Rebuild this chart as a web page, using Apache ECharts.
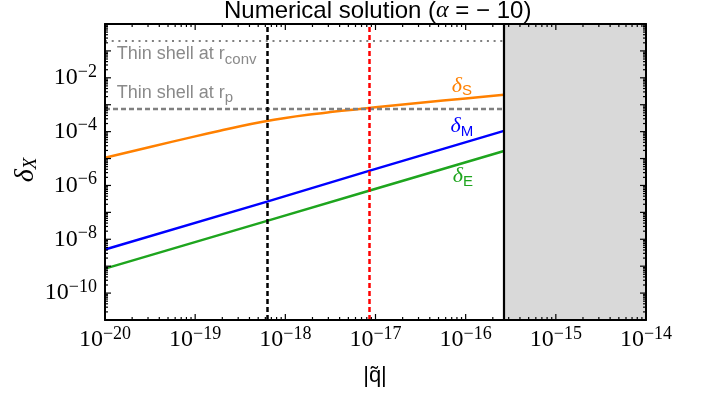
<!DOCTYPE html>
<html><head><meta charset="utf-8">
<script src="https://cdn.jsdelivr.net/npm/echarts@6/dist/echarts.min.js"></script>
<style>html,body{margin:0;padding:0;background:#fff}#c{width:702px;height:401px}</style>
</head><body><div id="c"></div>
<script>
const qS = [1e-20, 3.16e-20, 1e-19, 1.78e-19, 3.16e-19, 5.62e-19, 1e-18, 1.78e-18, 3.16e-18, 5.62e-18, 1e-17, 3.16e-17, 1e-16, 2.66e-16];
const deltaS = [1.07e-5, 2.69e-5, 6.68e-5, 1.04e-4, 1.59e-4, 2.33e-4, 3.23e-4, 4.24e-4, 5.33e-4, 6.56e-4, 8.0e-4, 1.175e-3, 1.72e-3, 2.37e-3];
const qME = [1e-20, 6.27e-19, 8.47e-18, 2.66e-16];
const deltaM = [4.17e-9, 2.51e-7, 3.47e-6, 1.07e-4];
const deltaE = [8.13e-10, 4.84e-8, 6.35e-7, 1.91e-5];
const xTickExponents = [-20, -19, -18, -17, -16, -15, -14];
const yTickExponents = [-10, -8, -6, -4, -2];
const qRange = [1e-20, 1e-14];
const deltaRange = [1e-11, 1];
const qBoundary = 2.66e-16;
const qBlackLine = 6.27e-19;
const qRedLine = 8.47e-18;
const thinShellConv = 0.24;
const thinShellRp = 7.2e-4;
// annotation anchors [q, delta] (left edge / baseline of text)
const anchorS = [7.0e-17, 2.84e-3];
const anchorM = [6.8e-17, 8.7e-5];
const anchorE = [7.2e-17, 1.2e-6];
const anchorConv = [1.35e-20, 0.047];
const anchorRp = [1.35e-20, 1.75e-3];

const L = Math.log10;
const xMin = L(qRange[0]), xMax = L(qRange[1]);
const yMin = L(deltaRange[0]), yMax = L(deltaRange[1]);
function pairs(xs, ys) { return xs.map((x, i) => [L(x), L(ys[i])]); }
function tickVals(a, b) {
  const out = [];
  for (let n = a; n <= b; n++) {
    out.push([n, 6]);
    if (n < b) for (let k = 2; k <= 9; k++) out.push([n + L(k), 3]);
  }
  return out;
}
const SERIF = "'Liberation Serif','DejaVu Serif',serif";
const SANS = "'Liberation Sans',Arial,sans-serif";
const supRich = {
  b: { fontFamily: SERIF, fontSize: 24, lineHeight: 30, color: '#000' },
  s: { fontFamily: SERIF, fontSize: 18, lineHeight: 18, verticalAlign: 'top', color: '#000' }
};
function powLabel(v) {
  const r = Math.round(v);
  return '{b|10}{s|' + (r < 0 ? '\u2212' : '') + Math.abs(r) + '}';
}
const lineAx = { show: true, onZero: false, lineStyle: { color: '#000', width: 2 } };
function mkX(pos, labels) {
  return {
    type: 'value', position: pos, min: xMin, max: xMax, interval: 1, gridIndex: 0, z: 10,
    axisLine: lineAx, axisTick: { show: false },
    axisLabel: labels ? { show: true, margin: 5, rich: supRich, formatter: v => xTickExponents.indexOf(Math.round(v)) >= 0 ? powLabel(v) : '' }
                      : { show: false },
    splitLine: { show: false }
  };
}
function mkY(pos, labels) {
  return {
    type: 'value', position: pos, min: yMin, max: yMax, interval: 1, gridIndex: 0, z: 10,
    axisLine: lineAx, axisTick: { show: false },
    axisLabel: labels ? { show: true, margin: 8, rich: supRich,
                          formatter: v => (Math.abs(v - Math.round(v)) < 1e-9 && yTickExponents.indexOf(Math.round(v)) >= 0) ? powLabel(v) : '' }
                      : { show: false },
    splitLine: { show: false }
  };
}
const xTicks = tickVals(xMin, xMax);
const yTicks = tickVals(yMin, yMax);
function tickLine(x1, y1, x2, y2) {
  return { type: 'line', shape: { x1: x1, y1: y1, x2: x2, y2: y2 }, style: { stroke: '#000', lineWidth: 1.2 } };
}
const chart = echarts.init(document.getElementById('c'), null, { renderer: 'canvas' });
const xb = L(qBoundary);
chart.setOption({
  animation: false,
  backgroundColor: '#fff',
  grid: { left: 105, right: 56, top: 24, bottom: 81, containLabel: false },
  xAxis: [mkX('bottom', true), mkX('top', false)],
  yAxis: [mkY('left', true), mkY('right', false)],
  series: [
    {
      name: 'frame', type: 'line', data: [], z: 1, silent: true,
      markArea: { silent: true, itemStyle: { color: '#d9d9d9' }, data: [[{ xAxis: xb }, { xAxis: xMax }]] },
      markLine: {
        silent: true, symbol: ['none', 'none'], label: { show: false },
        data: [
          [{ coord: [xMin, L(thinShellConv)], lineStyle: { color: '#808080', width: 2, type: [2, 4.7] } }, { coord: [xb, L(thinShellConv)] }],
          [{ coord: [xMin, L(thinShellRp)], lineStyle: { color: '#808080', width: 2.3, type: [5, 3] } }, { coord: [xb, L(thinShellRp)] }]
        ]
      }
    },
    { name: 'deltaS', type: 'line', z: 3, data: pairs(qS, deltaS), showSymbol: false, smooth: 0.4,
      lineStyle: { color: '#ff8000', width: 2.5 }, itemStyle: { color: '#ff8000' } },
    { name: 'deltaM', type: 'line', z: 3, data: pairs(qME, deltaM), showSymbol: false,
      lineStyle: { color: '#0000ff', width: 2.5 }, itemStyle: { color: '#0000ff' } },
    { name: 'deltaE', type: 'line', z: 3, data: pairs(qME, deltaE), showSymbol: false,
      lineStyle: { color: '#1ea51e', width: 2.5 }, itemStyle: { color: '#1ea51e' } },
    {
      name: 'verticals', type: 'line', data: [], z: 4, silent: true,
      markLine: {
        silent: true, symbol: ['none', 'none'], label: { show: false },
        data: [
          { xAxis: L(qBlackLine), lineStyle: { color: '#000', width: 2.5, type: [5, 3] } },
          { xAxis: L(qRedLine), lineStyle: { color: '#ff0000', width: 2.5, type: [5, 3] } },
          { xAxis: xb, lineStyle: { color: '#000', width: 2.2, type: 'solid' } }
        ]
      }
    },
    {
      name: 'xTicks', type: 'custom', z: 12, silent: true, clip: false,
      data: xTicks.map(t => [t[0], yMin, t[1]]),
      renderItem: function (params, api) {
        const v = api.value(0), len = api.value(2);
        const b = api.coord([v, yMin]), t = api.coord([v, yMax]);
        return { type: 'group', children: [tickLine(b[0], b[1], b[0], b[1] - len), tickLine(t[0], t[1], t[0], t[1] + len)] };
      }
    },
    {
      name: 'yTicks', type: 'custom', z: 12, silent: true, clip: false,
      data: yTicks.map(t => [xMin, t[0], t[1]]),
      renderItem: function (params, api) {
        const v = api.value(1), len = api.value(2);
        const l = api.coord([xMin, v]), r = api.coord([xMax, v]);
        return { type: 'group', children: [tickLine(l[0], l[1], l[0] + len, l[1]), tickLine(r[0], r[1], r[0] - len, r[1])] };
      }
    }
  ]
});

function px(a) { return chart.convertToPixel({ gridIndex: 0 }, [L(a[0]), L(a[1])]); }
// rich label: main token top-aligned, subscript bottom-aligned (lowered)
function subLabel(anchor, main, sub, mainStyle, subStyle, color, baseOff) {
  const p = px(anchor);
  return {
    type: 'text', x: p[0], y: p[1] - baseOff, z: 20, silent: true,
    style: {
      text: '{m|' + main + '}{u|' + sub + '}', fill: color, align: 'left', verticalAlign: 'top',
      rich: { m: Object.assign({ verticalAlign: 'top' }, mainStyle), u: Object.assign({ verticalAlign: 'bottom' }, subStyle) }
    }
  };
}
const dMain = { fontFamily: SERIF, fontStyle: 'italic', fontSize: 22, lineHeight: 22 };
const dSub = { fontFamily: SANS, fontSize: 15, lineHeight: 24 };
const tMain = { fontFamily: SANS, fontSize: 18, lineHeight: 18 };
const tSub = { fontFamily: SANS, fontSize: 15, lineHeight: 22 };
chart.setOption({
  graphic: [
    { type: 'text', x: 224, y: -1, silent: true,
      style: { text: '{t|Numerical solution (}{a|\u03b1}{t| = \u2212 10)}', fill: '#000', align: 'left', verticalAlign: 'top',
        rich: { t: { fontFamily: SANS, fontSize: 24, lineHeight: 24 }, a: { fontFamily: SERIF, fontStyle: 'italic', fontSize: 24, lineHeight: 24 } } } },
    subLabel(anchorS, '\u03b4', 'S', dMain, dSub, '#ff8000', 17.7),
    subLabel(anchorM, '\u03b4', 'M', dMain, dSub, '#0000ff', 17.7),
    subLabel(anchorE, '\u03b4', 'E', dMain, dSub, '#1ea51e', 17.7),
    subLabel(anchorConv, 'Thin shell at r', 'conv', tMain, tSub, '#8a8a8a', 14.6),
    subLabel(anchorRp, 'Thin shell at r', 'p', tMain, tSub, '#8a8a8a', 14.6),
    { type: 'text', x: 26, y: 170, rotation: Math.PI / 2, silent: true,
      style: { text: '{d|\u03b4}{x|X}', fill: '#000', align: 'center', verticalAlign: 'middle',
        rich: { d: { fontFamily: SERIF, fontStyle: 'italic', fontSize: 28, lineHeight: 28, verticalAlign: 'top' },
                x: { fontFamily: SERIF, fontStyle: 'italic', fontSize: 19, lineHeight: 28, verticalAlign: 'bottom' } } } },
    { type: 'text', x: 375, y: 376, silent: true,
      style: { text: '|q\u0303|', fill: '#000', align: 'center', verticalAlign: 'middle', fontFamily: SANS, fontSize: 22 } }
  ]
});
</script></body></html>
